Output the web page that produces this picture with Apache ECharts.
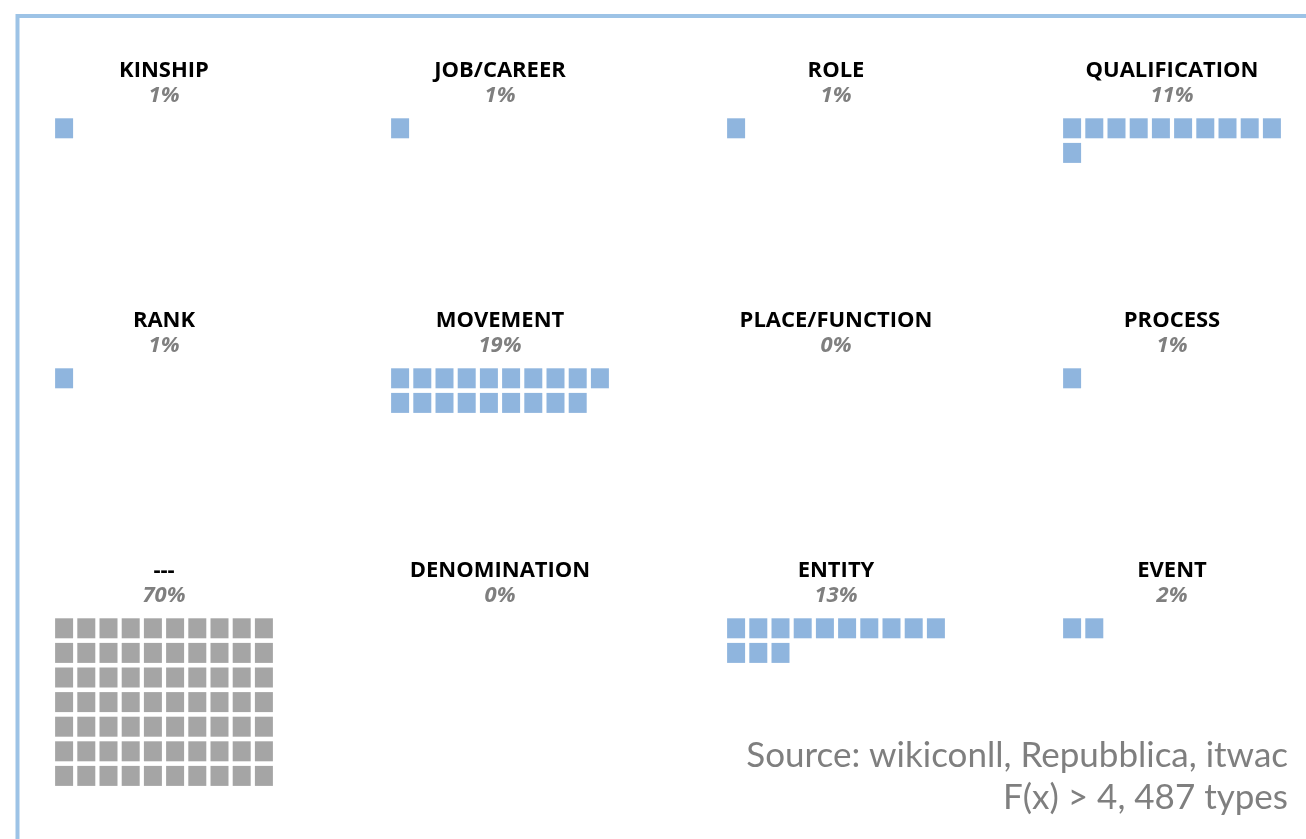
<!DOCTYPE html>
<html>
<head>
<meta charset="utf-8">
<title>Waffle</title>
<script src="https://cdn.jsdelivr.net/npm/echarts@6/dist/echarts.min.js"></script>
<style>
  html, body { margin: 0; padding: 0; background: #fff; }
  #chart { width: 1306px; height: 839px; }
</style>
</head>
<body>
<div id="chart"></div>
<script>
// categories and their share (one square per percent)
const categories = ['KINSHIP', 'JOB/CAREER', 'ROLE', 'QUALIFICATION',
                    'RANK', 'MOVEMENT', 'PLACE/FUNCTION', 'PROCESS',
                    '---', 'DENOMINATION', 'ENTITY', 'EVENT'];
const percents = [1, 1, 1, 11,
                  1, 19, 0, 1,
                  70, 0, 13, 2];
const percentLabels = ['1%', '1%', '1%', '11%',
                       '1%', '19%', '0%', '1%',
                       '70%', '0%', '13%', '2%'];
const sourceLines = ['Source: wikiconll, Repubblica, itwac', 'F(x) > 4, 487 types'];

const COLS = 10, ROWS = 7;
const colLeft = [53, 389, 725, 1061];
const rowTop = [116, 366, 616];
const cellW = 22.2, cellH = 24.6;
const gridW = cellW * COLS, gridH = cellH * ROWS;

const chart = echarts.init(document.getElementById('chart'));

const grids = [], xAxes = [], yAxes = [], series = [], texts = [];

categories.forEach((name, i) => {
  const c = i % 4, r = Math.floor(i / 4);
  const left = colLeft[c], top = rowTop[r];
  grids.push({ left: left, top: top, width: gridW, height: gridH, outerBoundsMode: 'none' });
  xAxes.push({ gridIndex: i, type: 'value', min: -0.5, max: COLS - 0.5, show: false });
  yAxes.push({ gridIndex: i, type: 'value', min: -0.5, max: ROWS - 0.5, inverse: true, show: false });

  const pts = [];
  for (let k = 0; k < percents[i]; k++) pts.push([k % COLS, Math.floor(k / COLS)]);
  series.push({
    type: 'scatter',
    xAxisIndex: i, yAxisIndex: i,
    symbol: 'rect',
    symbolSize: [18, 20],
    silent: true,
    itemStyle: { color: name === '---' ? '#a5a5a5' : '#8fb5de', opacity: 1 },
    data: pts
  });

  const cx = left + gridW / 2;
  texts.push({
    type: 'text', x: cx, y: top - 45,
    style: { text: name, fill: '#000', font: 'bold 22px "Open Sans"', align: 'center', verticalAlign: 'middle' }
  });
  texts.push({
    type: 'text', x: cx, y: top - 20,
    style: { text: percentLabels[i], fill: '#7f7f7f', font: 'italic bold 22px "Open Sans"', align: 'center', verticalAlign: 'middle' }
  });
});

const option = {
  animation: false,
  grid: grids,
  xAxis: xAxes,
  yAxis: yAxes,
  series: series,
  graphic: [
    { type: 'rect', shape: { x: 17.5, y: 16, width: 1400, height: 1000 },
      style: { fill: 'none', stroke: '#9dc3e6', lineWidth: 4 } },
    ...texts,
    { type: 'text', x: 1288, y: 756,
      style: { text: sourceLines[0], fill: '#7f7f7f', font: '35px Lato', align: 'right', verticalAlign: 'middle' } },
    { type: 'text', x: 1288, y: 798,
      style: { text: sourceLines[1], fill: '#7f7f7f', font: '35px Lato', align: 'right', verticalAlign: 'middle' } }
  ]
};

chart.setOption(option);
window.addEventListener('resize', () => chart.resize());
</script>
</body>
</html>
